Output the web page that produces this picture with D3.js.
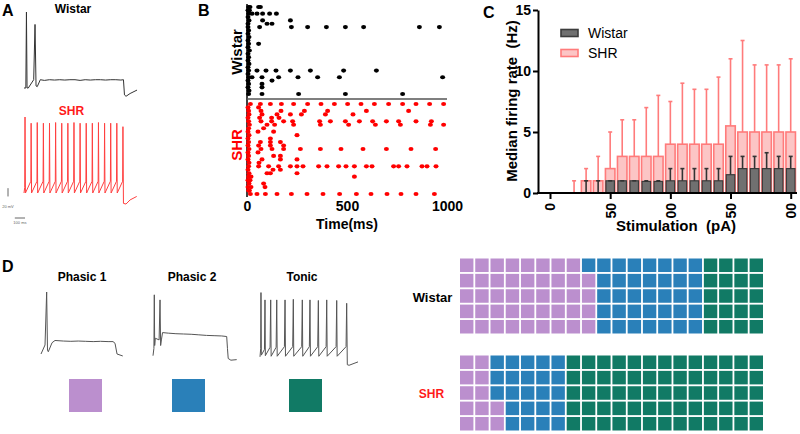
<!DOCTYPE html>
<html><head><meta charset="utf-8">
<script src="https://cdn.jsdelivr.net/npm/d3@7"></script>
<style>body{margin:0;background:#fff}svg{display:block;font-family:"Liberation Sans",Arial,sans-serif}</style>
</head><body><svg id="c" width="800" height="434"></svg>
<script>
// ---------- DATA ----------
// Panel A: membrane potential traces [time ms, mV]
const wistarTrace = [[0,-70],[18,-70],[24,40],[30,-70],[42,-70],[95,-58],[108,22],[118,-67],[130,-68],[160,-58],[200,-59],[250,-58],[300,-58.5],[350,-58],[400,-58.5],[450,-58],[500,-58],[550,-59],[600,-58],[650,-58.5],[700,-58],[750,-58],[800,-58.5],[850,-58],[900,-58],[950,-58.5],[975,-58],[985,-80],[1000,-82],[1040,-78],[1108,-73]];
const shrTrace = [[0,-70],[7,-62],[10,40],[14,-70],[67,-53],[70,31],[74,-70],[127,-53],[130,32],[134,-70],[187,-53],[190,31],[194,-70],[247,-53],[250,31],[254,-70],[307,-53],[310,32],[314,-70],[367,-53],[370,31],[374,-70],[427,-53],[430,31],[434,-70],[487,-53],[490,32],[494,-70],[547,-53],[550,31],[554,-70],[607,-53],[610,31],[614,-70],[667,-53],[670,31],[674,-70],[727,-53],[730,32],[734,-70],[787,-53],[790,31],[794,-70],[847,-53],[850,31],[854,-70],[907,-53],[910,31],[914,-70],[967,-53],[970,26],[975,-85],[1000,-86],[1040,-80],[1105,-75]];

// Panel B: raster, spike times (ms) per trial
const wistarTrials = [
 [8,15,58,67],[5,12],[8,25,50,78,113,147],[5],[10,78,217],[5,100,125],
 [5,63,222,303,397,492,583,862,962],[8],[5],[10],[5],[8,58],[5],[12],[5],[8],[5],[10],[5],
 [8,50,95,145,217,317,483,647],[5],[8,25,75,158,255,353,462,978],[5,125],[8,75],[5,75],[10],
 [8,75,258,492,778]];
const shrTrials = [
 [17,67,117,172,233,303,370,437,503,570,637,708,778,845,913,983],
 [5,58],
 [8,70,170,287,403,597,808],
 [10,75,150,217,272,392,530],
 [5,63,123,160],
 [8,70,123,183,228,363,417,492,562,628,697,758,845,922],
 [12,100,138,233,367,508,642,767,917,983],
 [8,83],
 [5,55,133],
 [10,250],
 [5,117],
 [8,67,117,167],
 [5,58,117,183],
 [10,70,125,183,267,367,470,580,697,820,943],
 [5,55],
 [8,133,167],
 [5,75,167,250],
 [10,60],
 [8,58,108,158,217,250,280,358,400,458,495,537,597,625,733,758,800,875,900,945],
 [5,130,167],
 [10,100,117,250],
 [8,20,537],
 [5,15],
 [10,83],
 [5,20,90],
 [8,12],
 [17,50,92,150,222,300,380,463,547,620,700,770,845,937]];
const rasterTicks = [0,500,1000];

// Panel C: median firing rate vs stimulation
const stim = [20,30,40,50,60,70,80,90,100,110,120,130,140,150,160,170,180,190,200];
const shrMedian = [0,1,1,2,3,3,3,3,4,4,4,4,4,5.5,5,5,5,5,5];
const shrUpper  = [1,2,3,5,6,6,7,8,7.5,9,8.5,8.5,9.5,11,12.5,10.5,10.5,10.5,11];
const wistarMedian = [0,0,0,1,1,1,0.95,0.95,1,1,1,1,1,1.5,2,2,2,2,2];
const wistarUpper  = [0,1,1,1,1,1,1,1,2,2,2,2,2,3,3,3,3.3,3,3];
const cYTicks = [0,5,10,15];
const cXTicks = [0,50,100,150,200];

// Panel D
const firingTypes = ["Phasic 1","Phasic 2","Tonic"];
const typeColors = ["#bb8fce","#2a80b9","#117a65"];
const wistarCounts = [44,36,20];
const shrCounts = [12,23,65];
const phasic1Trace = [[0,-70],[54,-54],[76,40],[87,-63],[98,-66],[148,-50],[188,-46],[300,-47],[400,-47.5],[500,-47],[600,-47.5],[700,-48],[800,-47.5],[900,-48],[966,-48],[993,-51],[1020,-70],[1097,-73.5]];
const phasic2Trace = [[0,-73],[12,-60],[17,35],[22,-55],[30,-42],[80,-45],[92,26],[100,-55],[110,-45],[125,-32],[200,-33],[300,-34],[400,-34.5],[500,-35],[600,-36],[700,-37],[800,-37.5],[900,-38],[965,-39],[975,-60],[985,-78],[1020,-81],[1096,-80]];
const tonicTrace = [[0,-75],[8,-60],[11,39],[15,-72],[50,-62],[56,26],[60,-73],[113,-58],[120,26],[125,-74],[181,-58],[188,26],[193,-74],[274,-57],[281,26],[286,-74],[367,-57],[374,27],[379,-74],[468,-57],[475,26],[480,-74],[554,-57],[561,26],[566,-74],[648,-57],[655,25],[660,-74],[742,-57],[749,26],[754,-74],[854,-57],[861,25],[866,-74],[966,-57],[973,20],[980,-89],[1000,-90],[1100,-84]];

// ---------- DRAW ----------
const svg = d3.select("#c");
function label(txt,x,y,size,color="#000",anchor="start"){
  return svg.append("text").attr("x",x).attr("y",y).attr("font-size",size).attr("font-weight","bold")
    .attr("fill",color).attr("text-anchor",anchor).text(txt);
}
label("A",2,16,16); label("B",198,16,16); label("C",483,18,16); label("D",2,272,16);

// Panel A
const xA = d3.scaleLinear([0,1000],[24,126]);
const yAw = d3.scaleLinear([-70,40],[88,12]);
const yAs = d3.scaleLinear([-70,40],[193,117]);
svg.append("path").attr("d",d3.line().x(d=>xA(d[0])).y(d=>yAw(d[1]))(wistarTrace))
  .attr("fill","none").attr("stroke","#333").attr("stroke-width",1);
svg.append("path").attr("d",d3.line().x(d=>xA(d[0])).y(d=>yAs(d[1]))(shrTrace))
  .attr("fill","none").attr("stroke","#ff4040").attr("stroke-width",1);
label("Wistar",73,13,12,"#000","middle");
label("SHR",71.5,115,12,"#ff1a1a","middle");
// scale bars
const sbX = 8;
svg.append("line").attr("x1",sbX).attr("x2",sbX).attr("y1",yAs(-75)).attr("y2",yAs(-63)).attr("stroke","#666");
svg.append("text").attr("x",sbX).attr("y",208).attr("font-size",4).attr("fill","#666").attr("text-anchor","middle").text("20 mV");
svg.append("line").attr("x1",xA(-90)).attr("x2",xA(10)).attr("y1",218).attr("y2",218).attr("stroke","#666");
svg.append("text").attr("x",xA(-40)).attr("y",224).attr("font-size",4).attr("fill","#666").attr("text-anchor","middle").text("100 ms");

// Panel B
const xB = d3.scaleLinear([0,1000],[247,447]);
const yBw = d3.scaleLinear([0,wistarTrials.length-1],[7,94]);
const yBs = d3.scaleLinear([0,shrTrials.length-1],[104,194]);
svg.append("line").attr("x1",xB(0)).attr("x2",xB(0)).attr("y1",4).attr("y2",197).attr("stroke","#000").attr("stroke-width",1.5);
function raster(trials,y,color){
  const pts = trials.flatMap((ts,i)=>ts.map(t=>({t,i})));
  svg.append("g").selectAll("ellipse").data(pts).join("ellipse")
    .attr("cx",d=>xB(d.t)).attr("cy",d=>y(d.i)).attr("rx",2.5).attr("ry",2.1).attr("fill",color);
}
raster(wistarTrials,yBw,"#000");
raster(shrTrials,yBs,"#ff0000");
svg.append("line").attr("x1",xB(0)).attr("x2",xB(1000)).attr("y1",99).attr("y2",99).attr("stroke","#555").attr("stroke-width",1.5);
const axB = svg.append("g").attr("transform","translate(0,199)")
  .call(d3.axisBottom(xB).tickValues(rasterTicks).tickFormat(d3.format("d")).tickSize(0).tickPadding(2));
axB.select(".domain").remove();
axB.selectAll("text").attr("font-size",14).attr("font-weight","bold").attr("font-family","Liberation Sans, Arial");
label("Time(ms)",347,229,14,"#000","middle");
svg.append("text").attr("transform","translate(236,52) rotate(-90)").attr("text-anchor","middle").attr("dominant-baseline","central")
  .attr("font-size",15).attr("font-weight","bold").text("Wistar");
svg.append("text").attr("transform","translate(236,145) rotate(-90)").attr("text-anchor","middle").attr("dominant-baseline","central")
  .attr("font-size",15).attr("font-weight","bold").attr("fill","#ff0000").text("SHR");

// Panel C
const xC = d3.scaleLinear([0,200],[550,790.7]);
const yC = d3.scaleLinear([0,15],[193,10]);
const gC = svg.append("g");
const bwS = 9.5, bwW = 8.5, cap = 4;
// SHR boxes
gC.selectAll(".sb").data(stim.map((s,i)=>({s,m:shrMedian[i],u:shrUpper[i]}))).join("g").each(function(d){
  const g = d3.select(this);
  g.append("line").attr("x1",xC(d.s)).attr("x2",xC(d.s)).attr("y1",yC(d.m)).attr("y2",yC(d.u)).attr("stroke","#ff7b7b").attr("stroke-width",1.6);
  g.append("line").attr("x1",xC(d.s)-cap/2).attr("x2",xC(d.s)+cap/2).attr("y1",yC(d.u)).attr("y2",yC(d.u)).attr("stroke","#ff7b7b").attr("stroke-width",1.6);
  if(d.m>0) g.append("rect").attr("x",xC(d.s)-bwS/2).attr("width",bwS).attr("y",yC(d.m)).attr("height",yC(0)-yC(d.m))
    .attr("fill","#fcc5c5").attr("stroke","#ff7b7b").attr("stroke-width",1.6);
});
// Wistar bars
gC.selectAll(".wb").data(stim.map((s,i)=>({s,m:wistarMedian[i],u:wistarUpper[i]}))).join("g").each(function(d){
  const g = d3.select(this);
  if(d.m>0) g.append("rect").attr("x",xC(d.s)-bwW/2).attr("width",bwW).attr("y",yC(d.m)).attr("height",yC(0)-yC(d.m))
    .attr("fill","#707070").attr("stroke","#3c3c3c").attr("stroke-width",1.2);
  if(d.u>0){
    g.append("line").attr("x1",xC(d.s)).attr("x2",xC(d.s)).attr("y1",yC(d.m)).attr("y2",yC(d.u)).attr("stroke","#333").attr("stroke-width",1.6);
    g.append("line").attr("x1",xC(d.s)-cap/2).attr("x2",xC(d.s)+cap/2).attr("y1",yC(d.u)).attr("y2",yC(d.u)).attr("stroke","#333").attr("stroke-width",1.6);
  }
});
// axes
const ayC = svg.append("g").attr("transform","translate(538,0)")
  .call(d3.axisLeft(yC).tickValues(cYTicks).tickSize(5).tickSizeOuter(0).tickPadding(2));
ayC.select(".domain").attr("stroke-width",2);
ayC.selectAll(".tick line").attr("stroke-width",2);
ayC.selectAll("text").attr("font-size",14).attr("font-weight","bold").attr("font-family","Liberation Sans, Arial");
svg.append("line").attr("x1",537).attr("x2",797).attr("y1",yC(0)).attr("y2",yC(0)).attr("stroke","#000").attr("stroke-width",2);
svg.append("clipPath").attr("id","clipx").append("rect").attr("x",530).attr("y",190).attr("width",270).attr("height",28);
const axC = svg.append("g").attr("clip-path","url(#clipx)").append("g").attr("transform",`translate(0,${yC(0)})`)
  .call(d3.axisBottom(xC).tickValues(cXTicks).tickSize(6).tickSizeOuter(0));
axC.select(".domain").remove();
axC.selectAll(".tick line").attr("stroke-width",2);
axC.selectAll("text").attr("transform","rotate(-90)").attr("x",-10).attr("y",0).attr("dy","0.35em")
  .attr("text-anchor","end").attr("font-size",14).attr("font-weight","bold").attr("font-family","Liberation Sans, Arial");
svg.append("text").attr("transform","translate(511,101) rotate(-90)").attr("text-anchor","middle").attr("dominant-baseline","central")
  .attr("font-size",15).attr("font-weight","bold").text("Median firing rate  (Hz)").style("white-space","pre");
label("Stimulation  (pA)",676,231,15,"#000","middle").style("white-space","pre");
// legend
const leg = [{n:"Wistar",f:"#707070",s:"#3c3c3c"},{n:"SHR",f:"#fcc5c5",s:"#ff7b7b"}];
leg.forEach((l,i)=>{
  svg.append("rect").attr("x",561).attr("y",29.5+i*20).attr("width",17).attr("height",7).attr("fill",l.f).attr("stroke",l.s).attr("stroke-width",1.6);
  svg.append("text").attr("x",588).attr("y",33+i*20).attr("dominant-baseline","central").attr("font-size",14).text(l.n);
});

// Panel D traces
const yD = d3.scaleLinear([-70,40],[354,292]);
const traceX = [d3.scaleLinear([0,1100],[41,123]),d3.scaleLinear([0,1100],[153,237]),d3.scaleLinear([0,1100],[260,358])];
[phasic1Trace,phasic2Trace,tonicTrace].forEach((tr,k)=>{
  svg.append("path").attr("d",d3.line().x(d=>traceX[k](d[0])).y(d=>yD(d[1]))(tr))
    .attr("fill","none").attr("stroke","#555").attr("stroke-width",1);
});
const labelX = d3.scaleOrdinal(firingTypes,[82,192,302]);
const squareX = d3.scaleOrdinal(firingTypes,[85.5,188.5,305.5]);
firingTypes.forEach((t,k)=>{
  label(t,labelX(t),281,12,"#000","middle");
  svg.append("rect").attr("x",squareX(t)-16.5).attr("y",379).attr("width",33).attr("height",33).attr("fill",typeColors[k]);
});

// waffles
const col = d3.scaleBand(d3.range(20),[460,763]).paddingInner(0.12);
function waffle(counts,yRange){
  const row = d3.scaleBand(d3.range(5),yRange).paddingInner(0.12);
  const cells = counts.flatMap((c,k)=>d3.range(c).map(()=>k));
  svg.append("g").selectAll("rect").data(cells).join("rect")
    .attr("x",(d,i)=>col(Math.floor(i/5))).attr("y",(d,i)=>row(4-i%5))
    .attr("width",col.bandwidth()).attr("height",row.bandwidth()).attr("fill",d=>typeColors[d]);
}
waffle(wistarCounts,[258.5,333.5]);
waffle(shrCounts,[355.5,430.5]);
label("Wistar",432.5,301.5,13,"#000","middle");
label("SHR",431.5,397.5,12,"#ff1a1a","middle");
</script></body></html>
